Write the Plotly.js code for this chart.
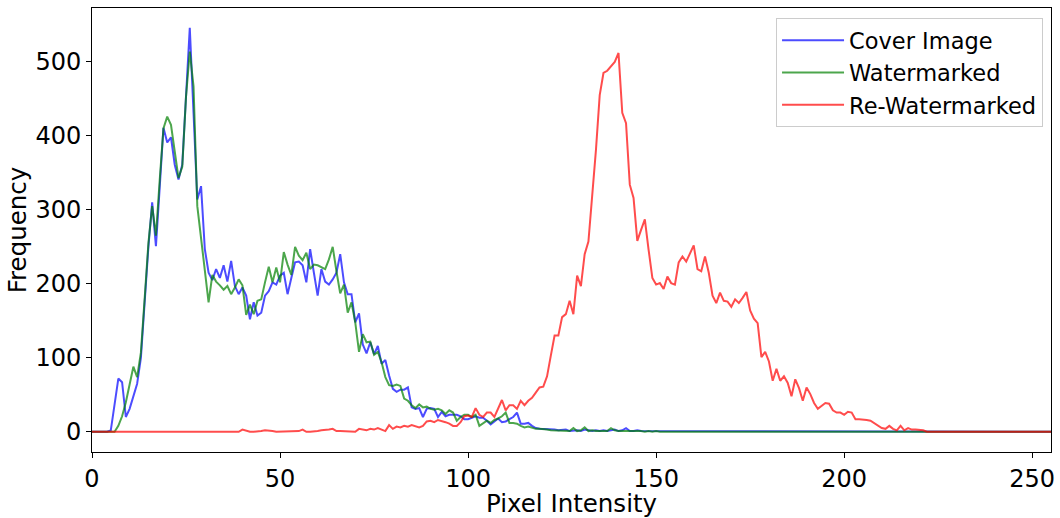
<!DOCTYPE html>
<html>
<head>
<meta charset="utf-8">
<script src="https://cdn.plot.ly/plotly-3.0.1.min.js"></script>
<style>html,body{margin:0;padding:0;background:#fff;}#chart{width:1060px;height:518px;}</style>
</head>
<body>
<div id="chart"></div>
<script>
const seriesNames = ["Cover Image", "Watermarked", "Re-Watermarked"];
const xTicks = [0, 50, 100, 150, 200, 250];
const yTicks = [0, 100, 200, 300, 400, 500];

const cover = [
0,0,0,0,0, 2,35,72,67,20, 31,49,65,100,180, 250,310,251,330,411,
391,398,361,341,361, 457,546,431,314,332, 247,215,205,220,208, 225,203,231,197,186,
195,184,152,175,157, 161,184,190,202,199, 211,215,186,208,229, 230,225,202,247,215,
184,220,203,199,206, 215,240,202,186,186, 148,160,118,106,121, 105,116,92,97,76,
58,54,57,57,60, 33,31,32,20,31, 32,31,20,27,21, 23,23,23,21,17,
17,19,21,19,19, 15,10,14,18,13, 14,17,20,26,11, 11,12,8,5,4,
4,3,3,3,2, 2,3,1,2,2, 1,3,2,1,2, 1,2,1,2,3,
1,2,5,1,1, 2,1,1,0,1, 0,0,0,0,0, 0,0,0,0,0,
0,0,0,0,0, 0,0,0,0,0, 0,0,0,0,0, 0,0,0,0,0,
0,0,0,0,0, 0,0,0,0,0, 0,0,0,0,0, 0,0,0,0,0,
0,0,0,0,0, 0,0,0,0,0, 0,0,0,0,0, 0,0,0,0,0,
0,0,0,0,0, 0,0,0,0,0, 0,0,0,0,0, 0,0,0,0,0,
0,0,0,0,0, 0,0,0,0,0, 0,0,0,0,0, 0
];

const watermarked = [
0,0,0,0,0, 0,0,8,21,40, 65,88,74,107,180, 255,305,265,340,410,
426,415,379,343,358, 453,514,467,305,262, 215,175,212,203,198, 192,197,186,195,206,
198,158,172,159,177, 179,202,223,202,222, 202,243,226,212,250, 238,232,242,220,226,
225,223,220,233,250, 217,187,199,161,175, 148,108,132,121,122, 104,108,94,74,63,
62,64,62,45,42, 36,32,37,33,34, 31,30,31,29,24, 29,26,15,20,23,
23,20,23,8,12, 15,12,16,18,21, 26,12,12,11,8, 6,7,5,4,4,
4,3,2,2,2, 1,2,1,5,1, 2,6,1,2,1, 1,2,1,5,2,
1,1,2,1,1, 2,1,0,1,0, 1,0,0,0,0, 0,0,0,0,0,
0,0,0,0,0, 0,0,0,0,0, 0,0,0,0,0, 0,0,0,0,0,
0,0,0,0,0, 0,0,0,0,0, 0,0,0,0,0, 0,0,0,0,0,
0,0,0,0,0, 0,0,0,0,0, 0,0,0,0,0, 0,0,0,0,0,
0,0,0,0,0, 0,0,0,0,0, 0,0,0,0,0, 0,0,0,0,0,
0,0,0,0,0, 0,0,0,0,0, 0,0,0,0,0, 0
];

const reWatermarked = [
0,0,0,0,0, 0,0,0,0,0, 0,0,0,0,0, 0,0,0,0,0,
0,0,0,0,0, 0,0,0,0,0, 0,0,0,0,0, 0,0,0,0,0,
3,1,0,0,0, 1,2,2,1,0, 0,0,1,0,0, 1,3,0,0,0,
1,2,2,3,4, 1,1,1,0,0, 0,4,3,2,4, 3,5,3,1,9,
4,7,6,8,7, 9,7,6,8,14, 15,13,16,15,13, 11,8,8,13,21,
22,20,32,23,20, 26,26,20,31,43, 29,36,36,31,42, 36,42,46,53,60,
61,75,103,130,130, 155,159,177,159,211, 197,240,257,314,381, 455,485,488,494,500,
512,431,417,334,316, 258,273,287,246,208, 199,201,193,210,201, 199,229,237,230,241,
252,220,217,237,215, 184,174,188,177,176, 169,179,174,181,189, 164,153,147,101,108,
95,69,85,69,75, 66,48,71,59,42, 60,51,39,31,35, 39,38,29,26,26,
23,27,26,17,17, 17,16,15,12,8, 5,4,8,4,2, 8,2,5,3,3,
3,2,0,0,0, 0,0,0,0,0, 0,0,0,0,0, 0,0,0,0,0,
0,0,0,0,0, 0,0,0,0,0, 0,0,0,0,0, 0
];

const intensity = cover.map((_, i) => i);
const colors = ["rgba(0,0,255,0.7)", "rgba(0,128,0,0.7)", "rgba(255,0,0,0.7)"];
const allSeries = [cover, watermarked, reWatermarked];

const traces = allSeries.map((ys, k) => ({
  x: intensity,
  y: ys,
  type: "scatter",
  mode: "lines",
  name: seriesNames[k],
  line: {color: colors[k], width: 2}
}));

const font = {family: "DejaVu Sans, sans-serif", color: "#000"};

const layout = {
  width: 1060, height: 518,
  margin: {l: 92, r: 9, t: 8, b: 66},
  paper_bgcolor: "#fff", plot_bgcolor: "#fff",
  font: Object.assign({size: 24}, font),
  showlegend: true,
  legend: {
    x: 0.9917, y: 0.977, xanchor: "right", yanchor: "top",
    itemwidth: 62,
    bgcolor: "rgba(255,255,255,0.8)", bordercolor: "#cccccc", borderwidth: 1,
    font: Object.assign({size: 22.5}, font)
  },
  xaxis: {
    range: [0, 255],
    tickvals: xTicks, ticktext: xTicks.map(String),
    ticks: "outside", ticklen: 5, tickwidth: 1, tickcolor: "#000",
    showgrid: false, zeroline: false,
    showline: true, mirror: true, linecolor: "#000", linewidth: 1,
    tickfont: Object.assign({size: 24}, font),
    title: {text: "Pixel Intensity", font: Object.assign({size: 24.5}, font), standoff: 1}
  },
  yaxis: {
    range: [-27.3, 572.8],
    tickvals: yTicks, ticktext: yTicks.map(String),
    ticks: "outside", ticklen: 5, tickwidth: 1, tickcolor: "#000",
    showgrid: false, zeroline: false,
    showline: true, mirror: true, linecolor: "#000", linewidth: 1,
    tickfont: Object.assign({size: 24}, font),
    title: {text: "Frequency", font: Object.assign({size: 24.5}, font), standoff: 1}
  }
};

Plotly.newPlot("chart", traces, layout, {displayModeBar: false, staticPlot: true});
</script>
</body>
</html>
